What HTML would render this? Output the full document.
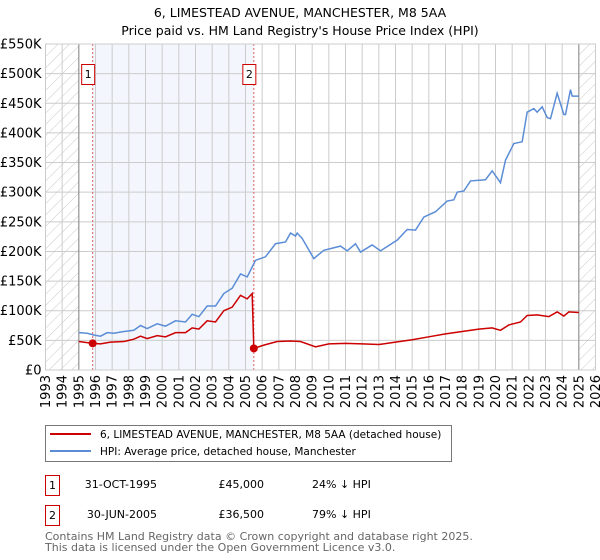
<!DOCTYPE html>
<html><head><meta charset="utf-8"><style>
body{margin:0;background:#fff;font-family:"DejaVu Sans","Liberation Sans",sans-serif;}
svg{display:block}
</style></head><body>
<svg id="chart" width="600" height="560" viewBox="0 0 600 560" xmlns="http://www.w3.org/2000/svg" font-family="DejaVu Sans, Liberation Sans, sans-serif">
<defs>
<pattern id="hatch" patternUnits="userSpaceOnUse" width="8" height="8" patternTransform="rotate(45)">
<rect width="8" height="8" fill="#fff"/><line x1="0" y1="0" x2="0" y2="8" stroke="#bbb" stroke-width="0.8"/>
</pattern>
</defs>
<text x="300" y="17" text-anchor="middle" font-size="12.5">6, LIMESTEAD AVENUE, MANCHESTER, M8 5AA</text>
<text x="300" y="35" text-anchor="middle" font-size="12.5">Price paid vs. HM Land Registry's House Price Index (HPI)</text>
<g id="plot"></g>
<g>
<rect x="45.5" y="425.5" width="406" height="36" fill="#fff" stroke="#777"/>
<line x1="50" y1="434" x2="91" y2="434" stroke="#cc0000" stroke-width="2"/>
<text x="100" y="438" font-size="10.5">6, LIMESTEAD AVENUE, MANCHESTER, M8 5AA (detached house)</text>
<line x1="50" y1="451" x2="91" y2="451" stroke="#5b8dd6" stroke-width="2"/>
<text x="100" y="455" font-size="10.5">HPI: Average price, detached house, Manchester</text>
</g>
<g font-size="11">
<rect x="45.5" y="475.5" width="14" height="20" fill="#fff" stroke="#cc0000"/>
<text x="52.5" y="489" text-anchor="middle">1</text>
<text x="157" y="488" text-anchor="end">31-OCT-1995</text>
<text x="264" y="488" text-anchor="end">£45,000</text>
<text x="312" y="488">24% ↓ HPI</text>
<rect x="45.5" y="505.5" width="14" height="20" fill="#fff" stroke="#cc0000"/>
<text x="52.5" y="519" text-anchor="middle">2</text>
<text x="157" y="518" text-anchor="end">30-JUN-2005</text>
<text x="264" y="518" text-anchor="end">£36,500</text>
<text x="312" y="518">79% ↓ HPI</text>
</g>
<g font-size="11" fill="#666">
<text x="45" y="540">Contains HM Land Registry data © Crown copyright and database right 2025.</text>
<text x="45" y="551">This data is licensed under the Open Government Licence v3.0.</text>
</g>
</svg>
<script>
const hpiYears=[1995.0,1995.5,1995.9,1996.3,1996.7,1997.1,1997.7,1998.3,1998.7,1999.1,1999.7,2000.2,2000.8,2001.4,2001.8,2002.2,2002.7,2003.2,2003.7,2004.2,2004.7,2005.1,2005.6,2006.2,2006.8,2007.4,2007.7,2008.0,2008.1,2008.4,2009.1,2009.7,2010.7,2011.1,2011.6,2011.9,2012.6,2013.1,2014.1,2014.7,2015.2,2015.7,2016.4,2017.1,2017.5,2017.7,2018.1,2018.5,2019.4,2019.8,2020.3,2020.6,2021.1,2021.6,2021.9,2022.3,2022.5,2022.8,2023.1,2023.3,2023.7,2024.1,2024.2,2024.5,2024.6,2025.0];
const hpiValues=[63,62,59,57,63,62,65,67,75,70,78,74,83,81,94,90,108,108,129,138,162,157,185,191,213,216,231,226,231,222,188,202,209,201,213,199,211,201,219,237,236,258,267,285,287,300,302,319,321,336,316,354,382,385,435,441,435,444,426,424,467,431,431,473,462,462];
const redYears=[1995.0,1995.83,1996.3,1996.9,1997.7,1998.3,1998.7,1999.1,1999.7,2000.2,2000.8,2001.4,2001.8,2002.2,2002.7,2003.2,2003.7,2004.2,2004.7,2005.1,2005.4,2005.5,2006.1,2006.9,2007.7,2008.3,2009.2,2010,2011,2012,2013,2014,2015,2016,2017,2018,2019,2019.8,2020.3,2020.8,2021.5,2021.9,2022.5,2023.2,2023.7,2024.1,2024.4,2025.0];
const redValues=[48,45,44,47,48,52,57,53,58,56,63,63,71,69,83,81,100,106,126,120,129,36.5,42,48,49,48,39,44,45,44,43,47,51,56,61,65,69,71,67,76,81,92,93,90,98,91,98,97];
const saleYears=[1995.83,2005.5];
const saleValues=[45,36.5];
const saleLabels=["1","2"];
const yTicks=[0,50,100,150,200,250,300,350,400,450,500,550];
const yTickLabels=["£0","£50K","£100K","£150K","£200K","£250K","£300K","£350K","£400K","£450K","£500K","£550K"];
const xTicks=[1993,1994,1995,1996,1997,1998,1999,2000,2001,2002,2003,2004,2005,2006,2007,2008,2009,2010,2011,2012,2013,2014,2015,2016,2017,2018,2019,2020,2021,2022,2023,2024,2025,2026];

const NS="http://www.w3.org/2000/svg";
const X0=45.5,X1=595.5,Y0=370,Y1=44;
const xs=y=>X0+(y-1993)/33*(X1-X0);
const ys=v=>Y0-v/550*(Y0-Y1);
const g=document.getElementById('plot');
function mk(t,a,p){const e=document.createElementNS(NS,t);for(const k in a)e.setAttribute(k,a[k]);(p||g).appendChild(e);return e;}

const bg=mk('rect',{x:X0,y:Y1,width:X1-X0,height:Y0-Y1,fill:'#fff'});


const h1=mk('rect',{x:X0,y:Y1,width:xs(1995)-X0,height:Y0-Y1,fill:'url(#hatch)'});


const h2=mk('rect',{x:xs(2025),y:Y1,width:X1-xs(2025),height:Y0-Y1,fill:'url(#hatch)'});


const sh=mk('rect',{x:xs(saleYears[0]),y:Y1,width:xs(saleYears[1])-xs(saleYears[0]),height:Y0-Y1,fill:'#f0f4fc',opacity:0.8});



yTicks.forEach((v,i)=>{
 const l=mk('line',{x1:X0,x2:X1,y1:ys(v),y2:ys(v),stroke:'#ccc','stroke-width':1});
 
 
 const t=mk('text',{x:X0-4,y:ys(v)+4.5,'text-anchor':'end','font-size':13});
 t.textContent=yTickLabels[i];
 
 
});
xTicks.forEach(yr=>{
 const l=mk('line',{x1:xs(yr),x2:xs(yr),y1:Y1,y2:Y0,stroke:'#ccc','stroke-width':1});
 
 
 const t=mk('text',{x:0,y:0,'text-anchor':'end','font-size':13,transform:`translate(${xs(yr)+4.5},${Y0+5}) rotate(-90)`});
 t.textContent=yr;
 
 
});
[1995,2025].forEach(yr=>{
 const l=mk('line',{x1:xs(yr),x2:xs(yr),y1:Y1,y2:Y0,stroke:'#888','stroke-width':1});
 
 
});
saleYears.forEach((yr,i)=>{
 const l=mk('line',{x1:xs(yr),x2:xs(yr),y1:Y1,y2:Y0,stroke:'#e06060','stroke-width':1,'stroke-dasharray':'2,2'});
 
 
 const b=mk('rect',{x:xs(yr)-11,y:64.5,width:13,height:20,fill:'#fff',stroke:'#cc0000'});
 
 
 const t=mk('text',{x:xs(yr)-4.5,y:78,'text-anchor':'middle','font-size':11});
 t.textContent=saleLabels[i];
 
 
});
const hp=mk('polyline',{points:hpiYears.map((y,i)=>xs(y)+','+ys(hpiValues[i])).join(' '),fill:'none',stroke:'#5b8dd6','stroke-width':1.5});


const rp=mk('polyline',{points:redYears.map((y,i)=>xs(y)+','+ys(redValues[i])).join(' '),fill:'none',stroke:'#cc0000','stroke-width':1.5});


saleYears.forEach((yr,i)=>{
 const c=mk('circle',{cx:xs(yr),cy:ys(saleValues[i]),r:4,fill:'#cc0000'});
 
 
});
const fr=mk('rect',{x:X0,y:Y1,width:X1-X0,height:Y0-Y1,fill:'none',stroke:'#ccc'});


</script>
</body></html>
